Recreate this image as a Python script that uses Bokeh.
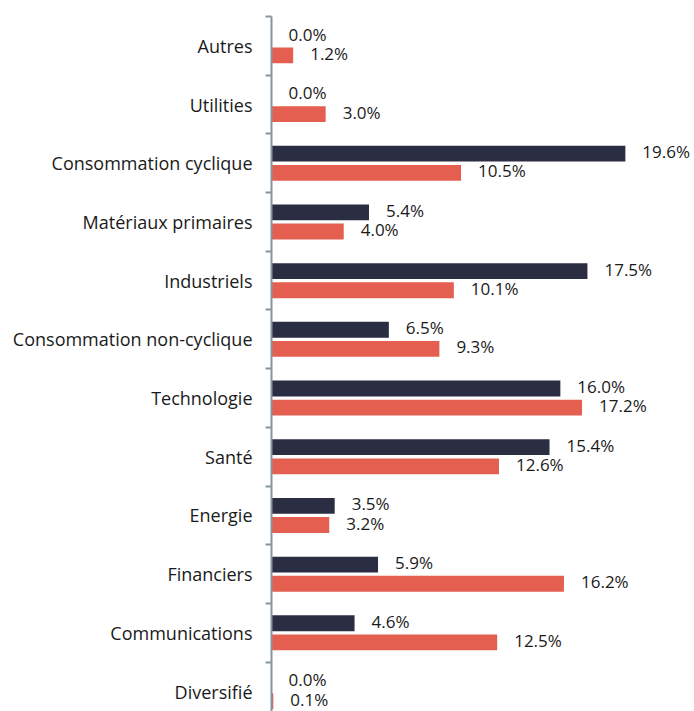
from bokeh.plotting import figure
from bokeh.models import Range1d, FixedTicker, ColumnDataSource
from bokeh.core.properties import value
from bokeh.embed import file_html
from bokeh.resources import INLINE

categories = ["Autres", "Utilities", "Consommation cyclique", "Matériaux primaires",
              "Industriels", "Consommation non-cyclique", "Technologie", "Santé",
              "Energie", "Financiers", "Communications", "Diversifié"]
series_dark = [0.0, 0.0, 19.6, 5.4, 17.5, 6.5, 16.0, 15.4, 3.5, 5.9, 4.6, 0.0]
series_red = [1.2, 3.0, 10.5, 4.0, 10.1, 9.3, 17.2, 12.6, 3.2, 16.2, 12.5, 0.1]

DARK = "#2b2d42"
RED = "#e45f4f"
FONT = "Open Sans"

n = len(categories)
pos = list(range(n))
off = 0.163
bh = 0.27

p = figure(width=694, height=711, output_backend="svg", toolbar_location=None,
           min_border_left=271, min_border_right=0, min_border_top=16, min_border_bottom=0,
           x_range=Range1d(0, 23.43), y_range=Range1d(11.34, -0.5))
p.outline_line_color = None
p.xgrid.visible = False
p.ygrid.visible = False
p.xaxis.visible = False

src_d = ColumnDataSource(dict(y=[i - off for i in pos], v=series_dark,
                              t=[f"{v:.1f}%" for v in series_dark]))
src_r = ColumnDataSource(dict(y=[i + off for i in pos], v=series_red,
                              t=[f"{v:.1f}%" for v in series_red]))

p.hbar(y="y", left=0, right="v", height=bh, source=src_d, color=DARK, line_color=None)
p.hbar(y="y", left=0, right="v", height=bh, source=src_r, color=RED, line_color=None)

for src in (src_d, src_r):
    p.text(x="v", y="y", text="t", source=src, x_offset=17, y_offset=-2, text_align="left",
           text_baseline="middle", text_font=value(FONT), text_font_size="17px",
           text_color="#1a1a1a")

ax = p.yaxis[0]
ax.ticker = FixedTicker(ticks=pos, minor_ticks=[i - 0.5 for i in range(n + 1)])
ax.major_label_overrides = {i: c for i, c in enumerate(categories)}
ax.major_tick_out = 0
ax.major_tick_in = 0
ax.minor_tick_out = 6
ax.minor_tick_in = 0
ax.minor_tick_line_color = "#8596a0"
ax.minor_tick_line_width = 2
ax.axis_line_color = "#8596a0"
ax.axis_line_width = 2
ax.major_label_standoff = 13
ax.major_label_text_font = FONT
ax.major_label_text_font_size = "18px"
ax.major_label_text_color = "#1a1a1a"

open("out.html", "w").write(file_html(p, INLINE))
